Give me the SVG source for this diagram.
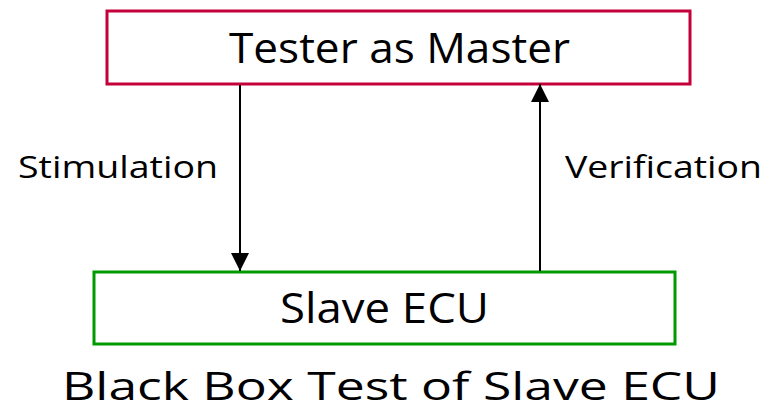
<svg xmlns="http://www.w3.org/2000/svg" width="765" height="411" viewBox="0 0 765 411">
<defs>
<style>
text{font-family:"Open Sans","Liberation Sans",sans-serif;fill:#000}
.big{font-size:42px}
.lbl{font-size:31px}
.title{font-size:39px}
.line{stroke:#000;stroke-width:2;fill:none}
</style>
<marker id="ah" markerWidth="18" markerHeight="18" viewBox="0 0 18 18" refX="18" refY="9" orient="auto" markerUnits="userSpaceOnUse">
<path d="M0,0 L18,9 L0,18 Z" fill="#000"/>
</marker>
</defs>
<rect width="765" height="411" fill="#fff"/>
<g id="tester">
<rect x="107" y="11" width="583" height="73" fill="#fff" stroke="#c4003a" stroke-width="3"/>
<text class="big" x="229" y="63" textLength="341" lengthAdjust="spacingAndGlyphs">Tester as Master</text>
</g>
<g id="slave">
<rect x="94" y="272" width="581" height="72" fill="#fff" stroke="#009900" stroke-width="3"/>
<text class="big" x="280" y="323" textLength="209" lengthAdjust="spacingAndGlyphs">Slave ECU</text>
</g>
<g id="connectors">
<line class="line" x1="240" y1="85" x2="240" y2="271" marker-end="url(#ah)"/>
<line class="line" x1="540" y1="271" x2="540" y2="84" marker-end="url(#ah)"/>
<text class="lbl" x="18" y="178" textLength="200" lengthAdjust="spacingAndGlyphs">Stimulation</text>
<text class="lbl" x="565" y="178" textLength="197" lengthAdjust="spacingAndGlyphs">Verification</text>
</g>
<g id="caption">
<text class="title" x="62" y="400" textLength="658" lengthAdjust="spacingAndGlyphs">Black Box Test of Slave ECU</text>
</g>
</svg>
